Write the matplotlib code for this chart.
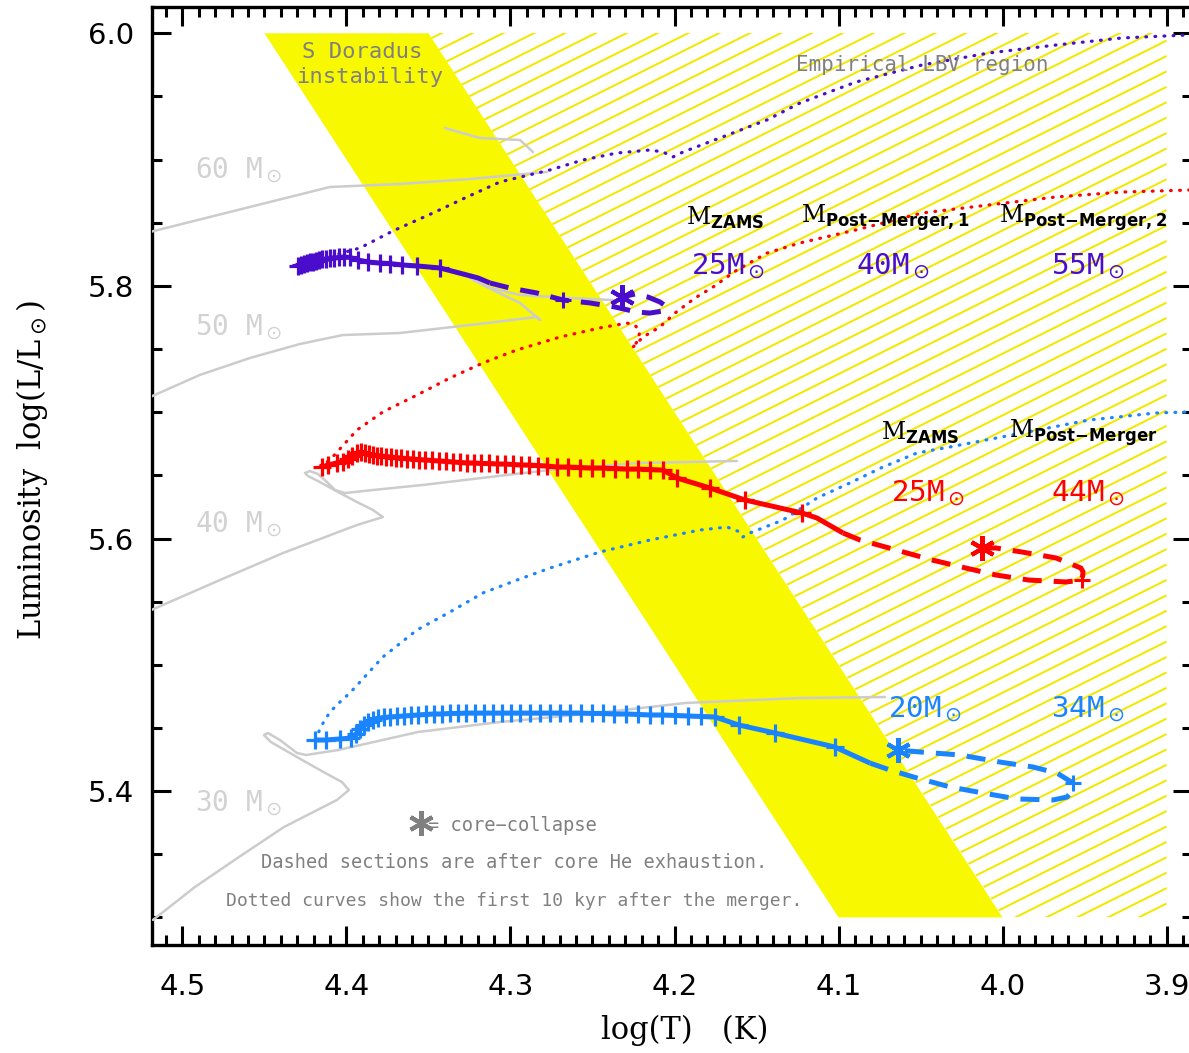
import numpy as np
import matplotlib
matplotlib.use('Agg')
import matplotlib.pyplot as plt
from matplotlib.patches import Polygon
from matplotlib.collections import LineCollection
from matplotlib.ticker import MultipleLocator

# S Doradus instability strip and empirical LBV region (log T, log L)
sdor_t = [4.45, 4.35, 4.00, 4.10]
sdor_l = [6.00, 6.00, 5.30, 5.30]
lbv_t = [4.35, 3.90, 3.90, 4.00]
lbv_l = [6.00, 6.00, 5.30, 5.30]

# single-star tracks (grey)
m60_t = [4.525, 4.4589, 4.4101, 4.3674, 4.3247, 4.2778, np.nan, 4.3400, 4.3186, 4.2942, 4.2863]
m60_l = [5.841, 5.8625, 5.8783, 5.8807, 5.8846, 5.8902, np.nan, 5.9250, 5.9171, 5.9155, 5.9060]
m50_t = [4.525, 4.4894, 4.4589, 4.4284, 4.4022, 4.3674, 4.3143, 4.2839, 4.2820, 4.2942, 4.3083,
         4.3247, 4.3143, 4.2942, 4.2637, 4.2375]
m50_l = [5.709, 5.7295, 5.7429, 5.7540, 5.7611, 5.7627, 5.7706, 5.7754, 5.7730, 5.7865, 5.7952,
         5.8063, 5.7991, 5.7928, 5.7904, 5.7888]
m40_t = [4.525, 4.4772, 4.4387, 4.3936, 4.3778, 4.3839, 4.3936, 4.4040, 4.4162, 4.4235, 4.4253,
         4.4223, 4.4174, 4.4119, 4.4070, 4.4009, 4.3839, 4.3534, 4.3125, 4.2759, 4.2211, 4.1619]
m40_l = [5.540, 5.5671, 5.5885, 5.6107, 5.6170, 5.6226, 5.6289, 5.6360, 5.6447, 5.6495, 5.6519,
         5.6534, 5.6511, 5.6447, 5.6384, 5.6360, 5.6384, 5.6424, 5.6487, 5.6543, 5.6598, 5.6614]
m30_t = [4.5180, 4.4924, 4.4656, 4.4381, 4.4058, 4.3985, 4.4028, 4.4162, 4.4302, 4.4461, 4.4503,
         4.4479, 4.4406, 4.4302, 4.4247, 4.4052, 4.3564, 4.3064, 4.2479, 4.1930, 4.1235, 4.0717]
m30_l = [5.2980, 5.3241, 5.3478, 5.3716, 5.3930, 5.4009, 5.4072, 5.4167, 5.4270, 5.4389, 5.4444,
         5.4460, 5.4405, 5.4302, 5.4286, 5.4325, 5.4468, 5.4547, 5.4618, 5.4698, 5.4737, 5.4745]
grey_labels = ['60 M$_\\odot$', '50 M$_\\odot$', '40 M$_\\odot$', '30 M$_\\odot$']
grey_label_l = [5.892, 5.767, 5.6115, 5.3906]

# merger 1: 25 + 40 -> 55 Msun (purple)
pur_cross_t = [4.4296, 4.4278, 4.4259, 4.4241, 4.4223, 4.4204, 4.4186, 4.4168, 4.4150, 4.4125,
               4.4101, 4.4076, 4.4046, 4.4015, 4.3979, 4.3930, 4.3869, 4.3796, 4.3735, 4.3662,
               4.3570, 4.3430]
pur_cross_l = [5.8158, 5.8166, 5.8174, 5.8181, 5.8189, 5.8193, 5.8197, 5.8205, 5.8209, 5.8213,
               5.8217, 5.8221, 5.8225, 5.8229, 5.8225, 5.8205, 5.8189, 5.8181, 5.8177, 5.8166,
               5.8158, 5.8142]
pur_solid_t = [4.3265, 4.3198, 4.3125]
pur_solid_l = [5.8086, 5.8063, 5.8023]
pur_dash_t = [4.3125, 4.3003, 4.2839, 4.2680, 4.2515, 4.2363, 4.2229, 4.2150, 4.2070, 4.2046,
              4.2089, 4.2162, 4.2241, 4.2320]
pur_dash_l = [5.8023, 5.7983, 5.7944, 5.7888, 5.7865, 5.7833, 5.7793, 5.7785, 5.7801, 5.7833,
              5.7873, 5.7912, 5.7936, 5.7912]
pur_dot_t = [4.4314, 4.3918, 4.3717, 4.3473, 4.3265, 4.3064, 4.2759, 4.2558, 4.2351, 4.2150,
             4.2070, 4.2009, 4.1948, 4.1644, 4.1436, 4.1235, 4.0894, 4.0491, 4.0083, 3.9674,
             3.9272, 3.8863]
pur_dot_l = [5.8158, 5.8300, 5.8435, 5.8577, 5.8704, 5.8823, 5.8918, 5.8997, 5.9052, 5.9076,
             5.9060, 5.9021, 5.9060, 5.9211, 5.9314, 5.9448, 5.9614, 5.9749, 5.9844, 5.9907,
             5.9963, 5.9987]
pur_late_cross = (4.2680, 5.7888)
pur_cc = (4.2320, 5.7912)

# merger 2: 25 -> 44 Msun (red)
red_cross_t = [4.4150, 4.4113, 4.4058, 4.4022, 4.3991, 4.3967, 4.3936, 4.3912, 4.3887, 4.3863,
               4.3839, 4.3814, 4.3790, 4.3759, 4.3729, 4.3698, 4.3668, 4.3631, 4.3595, 4.3558,
               4.3522, 4.3479, 4.3436, 4.3394, 4.3351, 4.3308, 4.3265, 4.3223, 4.3180, 4.3131,
               4.3083, 4.3034, 4.2985, 4.2936, 4.2887, 4.2833, 4.2778, 4.2717, 4.2650, 4.2576,
               4.2503, 4.2436, 4.2363, 4.2290, 4.2223, 4.2150, 4.2070, 4.1985, 4.1784, 4.1570,
               4.1223]
red_cross_l = [5.6566, 5.6582, 5.6598, 5.6606, 5.6629, 5.6653, 5.6677, 5.6685, 5.6677, 5.6669,
               5.6661, 5.6657, 5.6653, 5.6649, 5.6645, 5.6641, 5.6637, 5.6633, 5.6629, 5.6625,
               5.6622, 5.6618, 5.6614, 5.6610, 5.6606, 5.6602, 5.6598, 5.6598, 5.6594, 5.6594,
               5.6590, 5.6590, 5.6586, 5.6582, 5.6582, 5.6578, 5.6574, 5.6566, 5.6566, 5.6562,
               5.6558, 5.6558, 5.6554, 5.6550, 5.6550, 5.6546, 5.6542, 5.6479, 5.6400, 5.6305,
               5.6202]
red_solid_t = [4.1131, 4.0973]
red_solid_l = [5.6162, 5.6044]
red_dash_t = [4.0973, 4.0869, 4.0692, 4.0430, 4.0223, 4.0040, 3.9839, 3.9613, 3.9515, 3.9509,
              3.9522, 3.9674, 3.9881, 4.0040, 4.0125]
red_dash_l = [5.6044, 5.5988, 5.5925, 5.5830, 5.5766, 5.5711, 5.5671, 5.5656, 5.5671, 5.5735,
              5.5766, 5.5846, 5.5893, 5.5925, 5.5925]
red_dot_t = [4.4162, 4.4101, 4.3936, 4.3778, 4.3570, 4.3369, 4.3168, 4.2961, 4.2698, 4.2455,
             4.2290, 4.2241, 4.2211, 4.2229, 4.2259, 4.2192, 4.2089, 4.1997, 4.1875, 4.1765,
             4.1619, 4.1436, 4.1235, 4.0894, 4.0491, 4.0083, 3.9674, 3.9272, 3.8863]
red_dot_l = [5.6566, 5.6622, 5.6859, 5.7002, 5.7136, 5.7271, 5.7390, 5.7493, 5.7595, 5.7667,
             5.7706, 5.7690, 5.7635, 5.7556, 5.7508, 5.7595, 5.7675, 5.7785, 5.7904, 5.7991,
             5.8126, 5.8260, 5.8340, 5.8443, 5.8577, 5.8641, 5.8704, 5.8743, 5.8759]
red_late_cross = (3.9515, 5.5671)
red_cc = (4.0125, 5.5925)

# merger 3: 20 -> 34 Msun (blue)
blu_cross_t = [4.4192, 4.4125, 4.4040, 4.3973, 4.3942, 4.3918, 4.3894, 4.3869, 4.3839, 4.3808,
               4.3772, 4.3735, 4.3692, 4.3650, 4.3607, 4.3564, 4.3515, 4.3467, 4.3418, 4.3369,
               4.3320, 4.3272, 4.3217, 4.3162, 4.3107, 4.3052, 4.2997, 4.2942, 4.2881, 4.2820,
               4.2759, 4.2698, 4.2637, 4.2570, 4.2503, 4.2436, 4.2369, 4.2296, 4.2223, 4.2150,
               4.2076, 4.1997, 4.1918, 4.1839, 4.1753, 4.1607, 4.1387, 4.1022]
blu_cross_l = [5.4405, 5.4405, 5.4413, 5.4420, 5.4452, 5.4492, 5.4523, 5.4547, 5.4563, 5.4575,
               5.4583, 5.4587, 5.4591, 5.4595, 5.4599, 5.4603, 5.4607, 5.4611, 5.4611, 5.4615,
               5.4615, 5.4618, 5.4618, 5.4618, 5.4618, 5.4618, 5.4618, 5.4618, 5.4618, 5.4618,
               5.4618, 5.4618, 5.4618, 5.4618, 5.4615, 5.4615, 5.4611, 5.4611, 5.4607, 5.4603,
               5.4603, 5.4599, 5.4595, 5.4591, 5.4587, 5.4523, 5.4460, 5.4349]
blu_solid_t = [4.0808]
blu_solid_l = [5.4222]
blu_dash_t = [4.0808, 4.0686, 4.0522, 4.0320, 4.0119, 3.9912, 3.9692, 3.9607, 3.9570, 3.9570,
              3.9668, 3.9814, 4.0015, 4.0259, 4.0503, 4.0637]
blu_dash_l = [5.4222, 5.4167, 5.4104, 5.4033, 5.3985, 5.3938, 5.3930, 5.3953, 5.4009, 5.4064,
              5.4143, 5.4191, 5.4230, 5.4286, 5.4310, 5.4325]
blu_dot_t = [4.4192, 4.4150, 4.4101, 4.4028, 4.3979, 4.3778, 4.3570, 4.3369, 4.3168, 4.2961,
             4.2759, 4.2455, 4.2150, 4.1845, 4.1680, 4.1601, 4.1583, 4.1540, 4.1339, 4.1131,
             4.0930, 4.0729, 4.0522, 4.0320, 3.9881, 3.9473, 3.9064, 3.8863]
blu_dot_l = [5.4405, 5.4523, 5.4626, 5.4721, 5.4777, 5.5062, 5.5276, 5.5418, 5.5569, 5.5671,
             5.5766, 5.5893, 5.5988, 5.6067, 5.6091, 5.6052, 5.6012, 5.6044, 5.6146, 5.6321,
             5.6440, 5.6566, 5.6677, 5.6725, 5.6835, 5.6938, 5.6994, 5.7002]
blu_late_cross = (3.9570, 5.4064)
blu_cc = (4.0637, 5.4325)

PURPLE = '#4b0dcc'
RED = '#ff0000'
BLUE = '#1a84ff'
YELLOW = '#f8f800'
HATCH = '#f2e800'
TRACK_GREY = '#cccccc'
TEXT_GREY = '#808080'
LABEL_GREY = '#d2d2d2'
MONO = 'DejaVu Sans Mono'

fig = plt.figure(figsize=(11.89, 10.53), dpi=100)
ax = fig.add_axes([0.1278, 0.1026, 0.8747, 0.8911])
ax.set_xlim(4.5186, 3.8845)
ax.set_ylim(5.2782, 6.0211)

# hatched LBV region
clip = Polygon(np.column_stack([lbv_t, lbv_l]), closed=True, fc='none', ec='none')
ax.add_patch(clip)
slope = -0.649
segs = [[(3.9, c), (4.4, c + slope * 0.5)] for c in np.arange(5.25, 6.40, 0.0122)]
lc = LineCollection(segs, colors=HATCH, linewidths=1.45, zorder=1)
ax.add_collection(lc)
lc.set_clip_path(clip)

ax.add_patch(Polygon(np.column_stack([sdor_t, sdor_l]), closed=True, fc=YELLOW, ec='none', zorder=2))

for t, l in [(m60_t, m60_l), (m50_t, m50_l), (m40_t, m40_l), (m30_t, m30_l)]:
    ax.plot(t, l, color=TRACK_GREY, lw=1.8, zorder=3, solid_capstyle='round')
for lab, yl in zip(grey_labels, grey_label_l):
    ax.text(4.4924, yl, lab, color=LABEL_GREY, fontsize=20, family=MONO, va='center', ha='left', zorder=3)

models = [
    (PURPLE, pur_cross_t, pur_cross_l, pur_solid_t, pur_solid_l, pur_dash_t, pur_dash_l,
     pur_dot_t, pur_dot_l, pur_late_cross, pur_cc),
    (RED, red_cross_t, red_cross_l, red_solid_t, red_solid_l, red_dash_t, red_dash_l,
     red_dot_t, red_dot_l, red_late_cross, red_cc),
    (BLUE, blu_cross_t, blu_cross_l, blu_solid_t, blu_solid_l, blu_dash_t, blu_dash_l,
     blu_dot_t, blu_dot_l, blu_late_cross, blu_cc),
]
for col, ct, cl, st, sl, dt, dl, ot, ol, lcross, cc in models:
    ax.plot(ot, ol, color=col, lw=2.3, ls=(0, (0.25, 2.6)), dash_capstyle='round', zorder=4)
    ax.plot(ct + st, cl + sl, color=col, lw=3.6, zorder=5, solid_capstyle='butt')
    ax.plot(ct, cl, ls='none', marker='+', ms=12.5, mew=2.3, color=col, zorder=5)
    ax.plot(dt, dl, color=col, lw=3.6, ls=(0, (3.8, 2.4)), zorder=5)
    ax.plot(*lcross, marker='+', ms=12, mew=2.2, color=col, zorder=5)
    ax.plot(*cc, marker=(6, 2, 0), ms=18, mew=3, color=col, zorder=6)

# region and model labels
ax.text(4.3906, 5.9852, 'S Doradus', color=TEXT_GREY, fontsize=16, family=MONO, ha='center', va='center', zorder=7)
ax.text(4.3857, 5.9654, 'instability', color=TEXT_GREY, fontsize=16, family=MONO, ha='center', va='center', zorder=7)
ax.text(4.0491, 5.9749, 'Empirical LBV region', color=TEXT_GREY, fontsize=15, family=MONO, ha='center', va='center', zorder=7)

head_kw = dict(color='black', fontsize=17, family='DejaVu Serif', ha='center', va='center', zorder=7)
ax.text(4.1692, 5.8537, r'M$_{\mathbf{ZAMS}}$', **head_kw)
ax.text(4.0717, 5.8537, r'M$_{\mathbf{Post{-}Merger,1}}$', **head_kw)
ax.text(3.9510, 5.8537, r'M$_{\mathbf{Post{-}Merger,2}}$', **head_kw)
ax.text(4.0503, 5.6835, r'M$_{\mathbf{ZAMS}}$', **head_kw)
ax.text(3.9510, 5.6835, r'M$_{\mathbf{Post{-}Merger}}$', **head_kw)

mass_kw = dict(fontsize=21, family=MONO, ha='center', va='center', zorder=7)
ax.text(4.1674, 5.8158, '25M$_\\odot$', color=PURPLE, **mass_kw)
ax.text(4.0668, 5.8158, '40M$_\\odot$', color=PURPLE, **mass_kw)
ax.text(3.9479, 5.8158, '55M$_\\odot$', color=PURPLE, **mass_kw)
ax.text(4.0455, 5.6360, '25M$_\\odot$', color=RED, **mass_kw)
ax.text(3.9479, 5.6360, '44M$_\\odot$', color=RED, **mass_kw)
ax.text(4.0473, 5.4650, '20M$_\\odot$', color=BLUE, **mass_kw)
ax.text(3.9479, 5.4650, '34M$_\\odot$', color=BLUE, **mass_kw)

ax.plot(4.3546, 5.3747, marker=(6, 2, 0), ms=18, mew=3, color=TEXT_GREY, zorder=7)
ax.text(4.3503, 5.3731, '= core\u2212collapse', color=TEXT_GREY, fontsize=13.5, family=MONO, ha='left', va='center')
ax.text(4.2979, 5.3431, 'Dashed sections are after core He exhaustion.', color=TEXT_GREY,
        fontsize=13.4, family=MONO, ha='center', va='center')
ax.text(4.2979, 5.3130, 'Dotted curves show the first 10 kyr after the merger.', color=TEXT_GREY,
        fontsize=13, family=MONO, ha='center', va='center')

# axes styling
ax.xaxis.set_major_locator(MultipleLocator(0.1))
ax.xaxis.set_minor_locator(MultipleLocator(0.01))
ax.yaxis.set_major_locator(MultipleLocator(0.2))
ax.yaxis.set_minor_locator(MultipleLocator(0.05))
ax.tick_params(which='both', direction='in', top=True, right=True, width=2.2, labelsize=21)
ax.tick_params(which='major', length=13.5)
ax.tick_params(which='minor', length=7)
ax.tick_params(axis='x', which='major', pad=20)
ax.tick_params(axis='y', which='major', pad=13)
for sp in ax.spines.values():
    sp.set_linewidth(2.4)

fig.text(685 / 1189, 1 - 1030 / 1053, 'log(T)   (K)', fontsize=22, family='DejaVu Serif', ha='center', va='center')
fig.text(32 / 1189, 1 - 470 / 1053, 'Luminosity  log(L/L$_\\odot$)', fontsize=22, family='DejaVu Serif',
         rotation=90, ha='center', va='center')

fig.savefig('out.png', dpi=100)
